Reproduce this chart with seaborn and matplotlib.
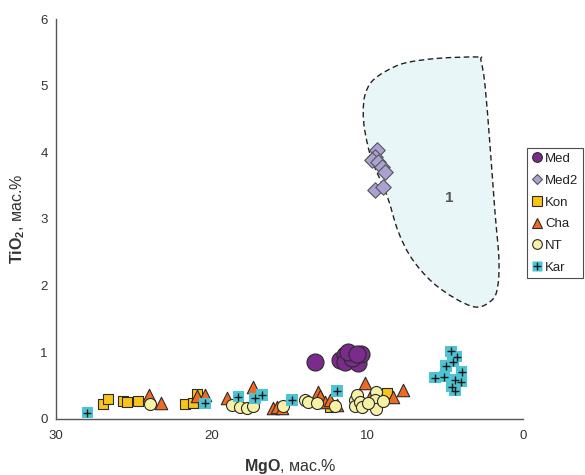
import numpy as np
import pandas as pd
import matplotlib
matplotlib.use("Agg")
import matplotlib.pyplot as plt
from matplotlib.path import Path
from matplotlib.patches import PathPatch
from matplotlib.lines import Line2D
import seaborn as sns

# MgO / TiO2 (wt.%) per suite
med_mgo = [13.38, 11.77, 11.45, 11.13, 11.45, 10.62, 10.44, 11.02, 11.26, 10.69]
med_tio2 = [0.86, 0.88, 0.96, 0.96, 0.86, 0.84, 0.98, 0.92, 1.00, 0.98]

med2_mgo = [9.42, 9.52, 9.74, 9.31, 9.09, 8.88, 9.52, 8.99]
med2_tio2 = [4.03, 3.93, 3.89, 3.86, 3.78, 3.71, 3.43, 3.48]

kon_mgo = [27.01, 26.69, 25.69, 25.43, 24.77, 21.73, 21.19, 20.98, 12.41, 8.77]
kon_tio2 = [0.225, 0.295, 0.275, 0.26, 0.275, 0.22, 0.235, 0.375, 0.185, 0.385]

cha_mgo = [24.07, 23.29, 20.98, 20.44, 19.05, 17.39, 16.10, 15.84, 15.52, 13.27,
           13.17, 13.06, 12.74, 12.42, 11.97, 10.17, 9.85, 8.35, 7.73]
cha_tio2 = [0.36, 0.245, 0.35, 0.36, 0.31, 0.485, 0.165, 0.185, 0.17, 0.31,
            0.405, 0.345, 0.255, 0.285, 0.21, 0.54, 0.335, 0.335, 0.43]

nt_mgo = [23.98, 18.73, 18.20, 17.76, 17.34, 15.41, 14.02, 13.81, 13.23, 12.09,
          10.81, 10.81, 10.66, 10.49, 9.43, 9.52, 9.46, 8.99, 10.38, 9.97]
nt_tio2 = [0.22, 0.21, 0.175, 0.16, 0.20, 0.195, 0.285, 0.26, 0.245, 0.20,
           0.285, 0.20, 0.36, 0.26, 0.40, 0.285, 0.145, 0.275, 0.18, 0.24]

kar_mgo = [28.00, 20.44, 18.30, 17.23, 16.80, 14.87, 11.98, 4.66, 4.28, 4.53,
           4.96, 5.67, 5.07, 3.96, 4.00, 4.39, 4.60, 4.39]
kar_tio2 = [0.095, 0.235, 0.335, 0.31, 0.36, 0.285, 0.42, 1.015, 0.935, 0.86,
            0.795, 0.62, 0.635, 0.71, 0.56, 0.585, 0.485, 0.425]

# Outline of field 1
field_mgo = [2.89, 5.46, 7.60, 8.88, 9.74, 10.17, 10.28, 10.17, 9.72, 8.77, 8.03,
             7.17, 5.88, 4.39, 3.10, 2.25, 1.71, 1.56, 1.82, 2.14, 2.46, 2.72]
field_tio2 = [5.43, 5.41, 5.34, 5.21, 5.06, 4.86, 4.61, 4.31, 3.88, 3.36, 2.81,
              2.41, 2.06, 1.81, 1.68, 1.74, 1.91, 2.36, 3.11, 4.11, 5.01, 5.38]
field_label = "1"
field_label_pos = (4.77, 3.31)

sns.set_style("white")
plt.rcParams["font.family"] = ["Liberation Sans", "DejaVu Sans"]
plt.rcParams["mathtext.fontset"] = "custom"
plt.rcParams["mathtext.rm"] = "Liberation Sans"
plt.rcParams["mathtext.bf"] = "Liberation Sans:bold"

fig = plt.figure(figsize=(5.85, 4.75), dpi=100)
ax = fig.add_axes([0.0962, 0.1179, 0.7983, 0.8421])

# smooth closed outline (Catmull-Rom -> cubic Bezier)
pts = np.column_stack([field_mgo, field_tio2])
n = len(pts)
verts = [pts[0]]
codes = [Path.MOVETO]
for i in range(n):
    p0, p1, p2, p3 = pts[i - 1], pts[i], pts[(i + 1) % n], pts[(i + 2) % n]
    verts += [p1 + (p2 - p0) / 6.0, p2 - (p3 - p1) / 6.0, p2]
    codes += [Path.CURVE4] * 3
ax.add_patch(PathPatch(Path(verts, codes), facecolor="#e9f6f8", edgecolor="#222222",
                       linestyle=(0, (4, 2.5)), linewidth=1.0, zorder=1))
ax.text(*field_label_pos, field_label, ha="center", va="center", fontsize=11,
        fontweight="bold", color="#555555", zorder=2)

edge = "#2b2b2b"
styles = [
    ("Med", med_mgo, med_tio2, "o", "#7b2b8c", edge, 150),
    ("Med2", med2_mgo, med2_tio2, "D", "#aba2d3", "#555555", 62),
    ("Kon", kon_mgo, kon_tio2, "s", "#f9c31a", edge, 60),
    ("Cha", cha_mgo, cha_tio2, "^", "#f26a21", edge, 80),
    ("NT", nt_mgo, nt_tio2, "o", "#f6f1a4", edge, 75),
]
for name, xs, ys, mk, fc, ec, s in styles:
    df = pd.DataFrame({"MgO": xs, "TiO2": ys})
    sns.scatterplot(data=df, x="MgO", y="TiO2", marker=mk, color=fc, edgecolor=ec,
                    linewidth=0.8, s=s, ax=ax, zorder=3, legend=False)

kar = pd.DataFrame({"MgO": kar_mgo, "TiO2": kar_tio2})
sns.scatterplot(data=kar, x="MgO", y="TiO2", marker="s", color="#4dc4d4",
                edgecolor="none", s=70, ax=ax, zorder=4, legend=False)
sns.scatterplot(data=kar, x="MgO", y="TiO2", marker="+", color="#1a1a1a",
                linewidth=1.0, s=30, ax=ax, zorder=5, legend=False)

ax.set_xlim(30, 0)
ax.set_ylim(0, 6)
ax.set_xticks([30, 20, 10, 0])
ax.set_yticks(range(0, 7))
for side in ("top", "right"):
    ax.spines[side].set_visible(False)
for side in ("left", "bottom"):
    ax.spines[side].set_color("#555555")
    ax.spines[side].set_linewidth(1.0)
ax.tick_params(axis="y", direction="inout", length=6, width=0.8, color="#555555",
               labelcolor="#333333", labelsize=9.5, pad=3)
ax.tick_params(axis="x", direction="out", length=4, width=0.8, color="#555555",
               labelcolor="#333333", labelsize=9.5, pad=4)
ax.set_xlabel(r"$\mathbf{MgO}$, мас.%", fontsize=11.5, color="#333333", labelpad=11)
ax.set_ylabel(r"$\mathbf{TiO_2}$, мас.%", fontsize=11.5, color="#333333", labelpad=10)

handles = [
    Line2D([], [], ls="none", marker="o", ms=7, mfc="#7b2b8c", mec=edge, mew=0.8),
    Line2D([], [], ls="none", marker="D", ms=5.5, mfc="#aba2d3", mec="#555555", mew=0.8),
    Line2D([], [], ls="none", marker="s", ms=6.5, mfc="#f9c31a", mec=edge, mew=0.8),
    Line2D([], [], ls="none", marker="^", ms=7, mfc="#f26a21", mec=edge, mew=0.8),
    Line2D([], [], ls="none", marker="o", ms=7, mfc="#f6f1a4", mec=edge, mew=0.8),
    (Line2D([], [], ls="none", marker="s", ms=7, mfc="#4dc4d4", mec="none"),
     Line2D([], [], ls="none", marker="+", ms=6, mec="#1a1a1a", mew=1.0)),
]
labels = ["Med", "Med2", "Kon", "Cha", "NT", "Kar"]
leg = fig.legend(handles, labels, loc="upper left", bbox_to_anchor=(0.901, 0.688),
                 frameon=True, fancybox=False, edgecolor="#222222", fontsize=9.5,
                 borderpad=0.35, handlelength=0.8, handletextpad=0.2,
                 labelspacing=0.72, borderaxespad=0)
leg.get_frame().set_linewidth(0.8)
for t in leg.get_texts():
    t.set_color("#222222")

fig.savefig("out.png", dpi=100)
